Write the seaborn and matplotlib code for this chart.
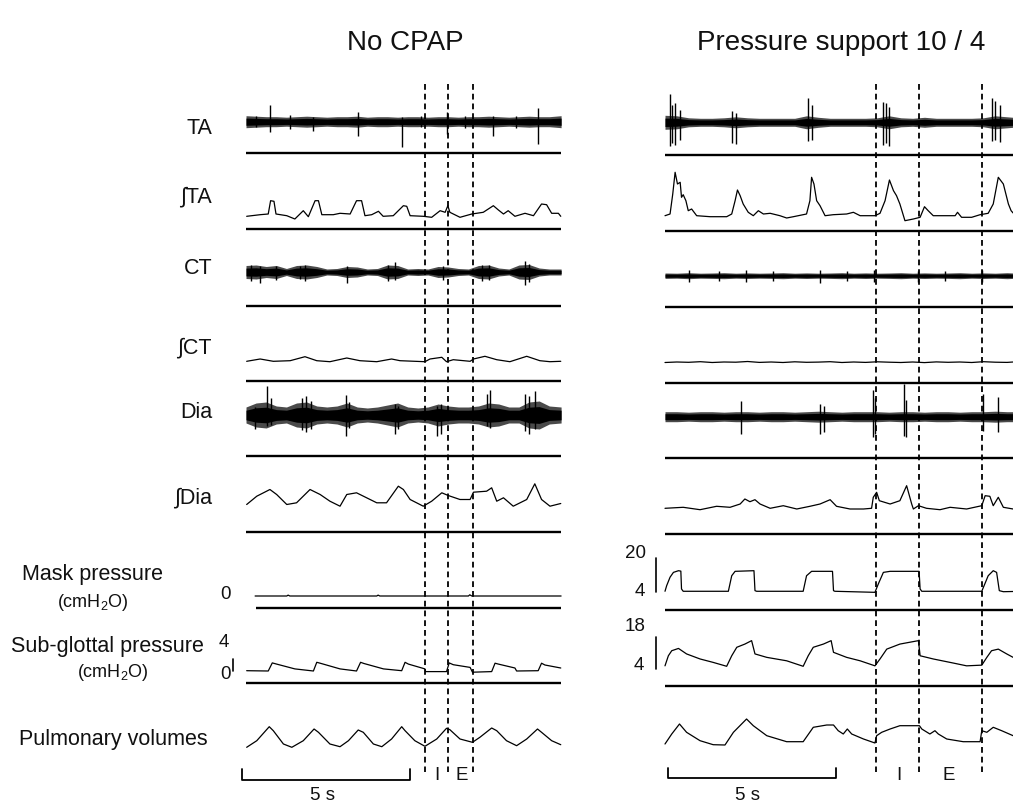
import matplotlib
matplotlib.use("Agg")
import matplotlib.pyplot as plt
import numpy as np
import seaborn as sns

# ======================= DATA =======================
# time in seconds from the start of each recording window
# EMG / integrated / volume amplitudes are arbitrary units above each row's reference line
# pressures in cmH2O

# ---------- No CPAP (left) ----------
L_ENV_T = [0.0, 0.3, 0.6, 0.9, 1.2, 1.5, 1.8, 2.1, 2.4, 2.7, 3.0, 3.3, 3.6, 3.9, 4.2, 4.5,
           4.8, 5.1, 5.4, 5.7, 6.0, 6.3, 6.6, 6.9, 7.2, 7.5, 7.8, 8.1, 8.4, 8.7, 9.0, 9.35]
L_TA_HALF = [6, 5.5, 5, 5, 4.5, 5, 5.5, 5, 4.5, 5, 5, 5.5, 4.5, 5, 5, 4.5,
             5, 5, 4.5, 5, 5, 4.5, 5, 5, 5.5, 5, 4.5, 5, 5.5, 5, 5, 6]
L_TA_SPIKES = [(0.30, 37, 26), (0.71, 48, 21), (1.30, 38, 24), (2.00, 36, 22), (3.31, 41, 17),
               (4.64, 36, 6), (5.20, 37, 26), (5.97, 41, 19), (6.50, 37, 25), (7.34, 37, 17),
               (8.00, 37, 25), (8.67, 45, 9)]
L_CT_HALF = [6.5, 7, 5.5, 6.5, 3.5, 6.5, 7, 5.5, 3, 3.5, 5.5, 5, 3, 3.5, 7, 6.5,
             3, 3.5, 3, 5.5, 5, 3.5, 3, 6.5, 7, 4, 3, 7, 7.5, 4, 3, 3]
L_CT_SPIKES = [(0.15, 41, 25), (0.42, 40, 22.5), (0.90, 40, 26), (1.60, 40, 27), (1.75, 41, 25),
               (2.99, 40, 22.5), (4.20, 41, 25), (4.42, 43.8, 26), (5.85, 40, 26), (7.00, 41, 25),
               (7.20, 41, 26), (8.28, 44.8, 20.5), (8.40, 42, 24)]
L_DIA_HALF = [8, 12, 13, 9, 8, 12, 13, 9, 8, 9, 12, 8, 7, 8, 10, 12,
              8, 7, 8, 11, 9, 8, 8, 9, 12, 11, 8, 8, 13, 14, 9, 8]
L_DIA_SPIKES = [(0.27, 49, 27), (0.63, 70, 30), (0.75, 58, 31), (1.65, 58, 26), (1.78, 60, 24),
                (1.92, 55, 27), (2.97, 61, 20), (3.05, 54, 28), (4.42, 52, 22), (4.50, 50, 27),
                (5.66, 50, 20), (5.80, 52, 22), (7.14, 62, 30), (7.24, 66, 28), (8.28, 62, 25),
                (8.40, 60, 22), (8.57, 65, 27)]

L_ITA_T = [0.02, 0.42, 0.66, 0.73, 0.83, 0.89, 1.21, 1.45, 1.70, 1.85, 2.05, 2.15, 2.25, 2.59,
           2.79, 3.09, 3.28, 3.43, 3.53, 3.73, 3.93, 4.07, 4.37, 4.67, 4.77, 4.87, 5.26, 5.51,
           5.76, 5.91, 5.99, 6.05, 6.35, 6.70, 7.04, 7.34, 7.49, 7.64, 7.78, 7.98, 8.28, 8.53,
           8.77, 8.92, 9.07, 9.27, 9.34]
L_ITA = [12.7, 14.3, 15, 28.3, 27.7, 15, 13.3, 10, 18.3, 12.3, 28.3, 28.3, 14.3, 14.3,
         15.7, 15, 28.3, 28.3, 13.3, 14.3, 17.7, 12.7, 13.3, 23.3, 22.7, 13.3, 12.7, 11.7,
         18.3, 16.7, 23.3, 16.7, 11.7, 15, 16.7, 23.3, 19, 15, 18.3, 12.7, 15.7, 13.3,
         25, 24.3, 15.7, 15.7, 12.7]

L_ICT_T = [0.02, 0.42, 0.81, 1.31, 1.75, 2.10, 2.49, 2.99, 3.38, 3.88, 4.32, 4.57, 5.31,
           5.46, 5.81, 5.95, 6.15, 6.65, 6.75, 7.09, 7.44, 7.83, 8.33, 8.72, 9.02, 9.34]
L_ICT = [19.7, 22, 19.7, 20.3, 24.3, 20.3, 19.3, 23, 20.3, 19.3, 22, 20.3, 19.3,
         22, 23.7, 19.3, 21.3, 19.7, 22, 24.7, 21.3, 19.3, 24.7, 20.3, 19.3, 19.7]

L_IDIA_T = [0.02, 0.32, 0.71, 0.91, 1.21, 1.50, 1.90, 2.20, 2.49, 2.79, 2.99, 3.28, 3.58,
            3.88, 4.17, 4.52, 4.67, 4.87, 5.26, 5.51, 5.81, 6.00, 6.35, 6.65, 6.75, 7.14,
            7.29, 7.44, 7.64, 7.93, 8.33, 8.57, 8.77, 9.02, 9.34]
L_IDIA = [27, 35.3, 42, 37, 27, 28.7, 42, 37, 30.3, 25.3, 37, 38.7, 33.7,
          28.7, 28.7, 45.3, 42, 32, 25.3, 30.3, 38.7, 36, 32, 32, 39.3, 40.3,
          43.7, 30.3, 33.7, 25.3, 32, 47.7, 32, 25.3, 28]

L_MASK_T = [0.27, 1.21, 1.25, 1.30, 3.88, 3.92, 3.97, 6.60, 6.64, 6.70, 9.35]
L_MASK = [0, 0, 0.3, 0, 0, 0.3, 0, 0, 0.4, 0, 0]

L_SUB_T = [0.02, 0.66, 0.78, 0.91, 1.45, 2.00, 2.10, 2.20, 2.79, 3.28, 3.40, 3.50, 4.08,
           4.62, 4.72, 4.82, 5.31, 5.33, 5.95, 6.03, 6.15, 6.65, 6.72, 7.29, 7.39, 7.49,
           7.98, 8.03, 8.67, 8.77, 8.87, 9.34]
L_SUB = [0.1, 0.0, 2.7, 2.3, 0.7, 0.0, 2.9, 2.6, 0.7, 0.0, 2.9, 2.5, 0.7,
         0.1, 2.9, 2.3, 0.7, -0.2, -0.2, 2.7, 2.1, 1.2, -0.4, -0.2, 2.6, 2.3,
         1.0, 0.0, 0.1, 2.6, 2.0, 1.0]

L_VOL_T = [0.02, 0.32, 0.69, 0.81, 1.11, 1.36, 1.70, 2.02, 2.15, 2.49, 2.79, 3.04, 3.33,
           3.48, 3.78, 4.03, 4.32, 4.62, 4.72, 5.01, 5.31, 5.66, 5.95, 6.05, 6.35, 6.72,
           6.94, 7.29, 7.44, 7.73, 8.03, 8.33, 8.65, 8.77, 9.07, 9.34]
L_VOL = [11.7, 18.3, 32.3, 28.3, 15, 11.7, 18.3, 30, 26.7, 15, 12.3, 18.3, 29,
         26.7, 15, 12.3, 20, 32.3, 28.3, 18.3, 12.7, 20, 30.7, 29.3, 20, 16.7,
         21.7, 31, 28.3, 18.3, 13.3, 20, 30, 26.7, 18.3, 14.3]

L_DASH_T = [5.31, 5.99, 6.73]          # cycle markers (I / E)

# ---------- Pressure support 10 / 4 (right) ----------
R_ENV_T = [0.0, 0.35, 0.7, 1.05, 1.4, 1.75, 2.1, 2.45, 2.8, 3.15, 3.5, 3.85, 4.2, 4.55, 4.9,
           5.25, 5.6, 5.95, 6.3, 6.65, 7.0, 7.35, 7.7, 8.05, 8.4, 8.75, 9.1, 9.45, 9.8, 10.15, 10.33]
R_TA_HALF = [7, 6.5, 4.5, 4, 4, 4.5, 5.5, 4.5, 4, 4, 4, 4, 6.5, 5, 4, 4,
             4, 4, 4.5, 6.5, 4.5, 4, 5, 4, 4, 4, 4, 4.5, 6.5, 5.5, 5]
R_TA_SPIKES = [(0.15, 61, 9), (0.22, 50, 12), (0.30, 52, 10), (0.45, 45, 15), (1.98, 44, 12),
               (2.10, 42, 11), (4.25, 57, 14), (4.35, 50, 15), (6.48, 53, 10), (6.55, 52, 12),
               (6.65, 48, 9), (9.69, 57, 14), (9.80, 54, 15), (9.95, 50, 13)]
R_CT_HALF = [2.7, 2.5, 3, 2.5, 2.7, 3, 2.5, 2.8, 2.5, 2.7, 3, 2.5, 2.8, 2.5, 2.7, 3,
             2.5, 2.8, 2.5, 2.7, 3, 2.5, 2.8, 2.5, 2.7, 3, 2.5, 2.8, 2.5, 3, 2.7]
R_CT_SPIKES = [(0.7, 37, 25), (1.6, 36, 26), (2.4, 37, 25), (3.2, 36, 26), (4.6, 37, 24),
               (5.4, 36, 26), (6.2, 37, 25), (7.5, 36, 25), (8.3, 36, 26), (9.4, 37, 25)]
R_DIA_HALF = [5, 5, 4.5, 5, 5, 4.5, 5, 5, 4.5, 5, 5, 4.5, 5, 5.5, 5, 4.5,
              5, 5, 5, 4.5, 5, 5, 4.5, 5, 5, 4.5, 5, 5, 5.5, 5, 5]
R_DIA_SPIKES = [(2.27, 57.3, 24), (4.60, 54, 24), (4.72, 52, 26), (6.18, 68.3, 20.7),
                (6.22, 60, 24), (7.09, 74, 22.3), (7.15, 58, 21), (9.45, 64, 27.3), (9.89, 60.7, 26)]

R_ITA_T = [0.00, 0.15, 0.23, 0.30, 0.37, 0.45, 0.49, 0.54, 0.62, 0.69, 0.79, 0.94, 1.34, 1.83,
           1.98, 2.08, 2.15, 2.23, 2.32, 2.47, 2.62, 2.77, 2.92, 3.12, 3.41, 3.61, 3.81, 4.20,
           4.30, 4.35, 4.42, 4.50, 4.60, 4.75, 4.99, 5.39, 5.59, 5.79, 6.23, 6.38, 6.53, 6.66,
           6.78, 6.87, 6.97, 7.12, 7.37, 7.57, 7.70, 7.81, 7.96, 8.36, 8.61, 8.68, 8.80, 9.10,
           9.35, 9.59, 9.74, 9.89, 10.04, 10.19, 10.27, 10.33]
R_ITA = [15.3, 17, 37, 58.7, 47, 48.7, 33.7, 36.3, 30.3, 20.3, 22, 15.3, 14.3, 14.3,
         17, 30.3, 41, 35.3, 27, 18.7, 15.3, 20.3, 17, 17.7, 15.3, 13, 14.3, 17,
         30.3, 53.7, 47, 30.3, 25.3, 15.3, 16.3, 17, 18.7, 15.3, 15.3, 17.7, 30.3, 51,
         40.3, 35.3, 27, 10.3, 12, 13.7, 24.3, 20.3, 15.3, 15.3, 15.3, 18.7, 13.7, 13.7,
         16.3, 17.7, 27, 53.7, 47, 27, 20.3, 18]

R_ICT = [20.5, 21, 20.7, 21.3, 20.5, 21, 20.8, 21.5, 20.6, 21, 20.5, 21.2, 20.7, 20.9, 21.3,
         20.5, 21, 20.6, 21.2, 20.8, 20.5, 21, 20.4, 21.1, 20.7, 21, 20.5, 21.3, 20.8, 20.6, 21]

R_IDIA_T = [0.00, 0.54, 1.04, 1.53, 1.93, 2.23, 2.37, 2.52, 2.67, 2.82, 3.12, 3.51, 3.91,
            4.30, 4.60, 4.90, 5.09, 5.49, 5.89, 6.13, 6.18, 6.28, 6.36, 6.68, 6.97, 7.17,
            7.32, 7.37, 7.52, 7.76, 8.16, 8.46, 8.95, 9.40, 9.50, 9.64, 9.74, 9.89, 10.04, 10.33]
R_IDIA = [25.7, 26.7, 24.3, 27.7, 26.7, 30, 35, 32.3, 34.3, 30, 25.7, 28.3, 25,
          27.7, 30, 34.3, 27.7, 25, 25, 25.7, 36.7, 41.7, 33.3, 30, 33.3, 48.3,
          30, 25, 28.3, 25.7, 24.3, 26.7, 25, 28.3, 38.3, 37.7, 28.3, 36.7, 26.7, 25]

R_MASK_T = [0.00, 0.05, 0.15, 0.25, 0.40, 0.47, 0.49, 0.54, 1.88, 1.98, 2.08, 2.64, 2.67, 2.72,
            4.10, 4.20, 4.35, 4.97, 5.00, 5.04, 6.23, 6.33, 6.48, 6.68, 7.54, 7.57, 7.62, 9.40,
            9.59, 9.74, 9.84, 9.92, 10.04, 10.33]
R_MASK = [4.2, 6.9, 10.9, 13.2, 14.0, 13.8, 5.3, 4.2, 4.2, 11.6, 13.7, 14.0, 4.5, 4.2,
          4.2, 11.6, 13.7, 13.7, 4.5, 4.2, 3.7, 7.7, 13.2, 13.7, 13.7, 5.3, 4.2, 4.2,
          11.6, 14.0, 13.2, 4.5, 4.0, 4.1]

R_SUB_T = [0.00, 0.10, 0.20, 0.40, 0.64, 1.04, 1.43, 1.83, 1.98, 2.13, 2.37, 2.57, 2.67, 3.02,
           3.61, 4.10, 4.25, 4.40, 4.70, 4.93, 5.00, 5.39, 5.79, 6.23, 6.38, 6.58, 6.97, 7.52,
           7.57, 7.96, 8.56, 8.95, 9.40, 9.55, 9.69, 9.89, 10.14, 10.33]
R_SUB = [5.4, 9.8, 12.0, 13.0, 10.6, 8.4, 6.9, 5.2, 9.8, 13.5, 14.9, 16.4, 10.6, 9.1,
         7.6, 5.2, 9.8, 13.5, 14.9, 16.4, 11.3, 9.1, 7.6, 5.4, 8.4, 12.7, 14.9, 16.4,
         9.8, 8.4, 6.6, 5.4, 5.7, 9.1, 12.0, 12.7, 10.6, 9.1]

R_VOL_T = [0.00, 0.20, 0.43, 0.64, 1.04, 1.43, 1.78, 2.03, 2.42, 2.62, 3.02, 3.61, 4.10, 4.40,
           4.80, 5.00, 5.14, 5.29, 5.41, 5.54, 5.89, 6.23, 6.28, 6.43, 6.68, 6.97, 7.55, 7.62,
           7.86, 8.01, 8.11, 8.36, 8.85, 9.35, 9.40, 9.55, 9.74, 9.99, 10.33]
R_VOL = [17, 27, 37, 28.7, 20.3, 16.3, 16, 28.7, 42, 35.3, 25.3, 19.3, 19.3, 33.7,
         36, 36, 30.3, 27, 32, 27, 22, 18, 25.3, 28.7, 32, 35.3, 35.3, 32,
         27, 30.3, 27, 22, 19.3, 19.3, 30.3, 28.7, 33.7, 30.3, 25.3]

R_DASH_T = [6.26, 7.55, 9.41]

ROW_LABELS = ["TA", "\u222bTA", "CT", "\u222bCT", "Dia", "\u222bDia"]
TITLES = ["No CPAP", "Pressure support 10 / 4"]
SCALE_SECONDS = 5

# ======================= LAYOUT =======================
W, H = 1013, 803
PX_PER_S = 33.7
sns.set_theme(style="white")
plt.rcParams["font.family"] = ["Liberation Sans", "DejaVu Sans"]
plt.rcParams["mathtext.default"] = "regular"

fig = plt.figure(figsize=(W / 100, H / 100), dpi=100)
fig.patch.set_facecolor("white")

SPLIT = 607.8
axL = fig.add_axes([0, 0, SPLIT / W, 1])
axR = fig.add_axes([SPLIT / W, 0, 1 - SPLIT / W, 1])
axL.set_xlim(-246 / PX_PER_S, (SPLIT - 246) / PX_PER_S)
axR.set_xlim((SPLIT - 665) / PX_PER_S, (W - 665) / PX_PER_S)
for ax in (axL, axR):
    ax.set_ylim(H, 0)

# row reference lines (vertical layout, px from top)
L_BASE = dict(TA=154, iTA=230, CT=306.5, iCT=382, Dia=457, iDia=532.5, Mask=608.5, Sub=684, Vol=760)
R_BASE = dict(TA=156, iTA=232, CT=308, iCT=384, Dia=459, iDia=535, Mask=611, Sub=687, Vol=762)

K = "black"
TR_LW = 0.9


def emg(ax, base, center, t, half, spikes):
    t = np.asarray(t)
    half = np.asarray(half)
    ax.fill_between(t, base - center - half, base - center + half, color="#4a4a4a", lw=0)
    ax.fill_between(t, base - center - 0.6 * half, base - center + 0.6 * half, color=K, lw=0)
    st = [s[0] for s in spikes]
    top = np.array([s[1] for s in spikes])
    bot = np.array([s[2] for s in spikes])
    ax.vlines(st, base - top, base - bot, color=K, lw=1.0)


def trace(ax, t, y):
    sns.lineplot(x=list(t), y=list(y), ax=ax, color=K, linewidth=TR_LW,
                 estimator=None, sort=False, legend=False)


def baseline(ax, y, t0, t1):
    ax.hlines(y, t0, t1, color=K, lw=1.7)


# ---------- left panel ----------
tL_end = L_ENV_T[-1]
emg(axL, L_BASE["TA"], 31.3, L_ENV_T, L_TA_HALF, L_TA_SPIKES)
emg(axL, L_BASE["CT"], 33.5, L_ENV_T, L_CT_HALF, L_CT_SPIKES)
emg(axL, L_BASE["Dia"], 41, L_ENV_T, L_DIA_HALF, L_DIA_SPIKES)
trace(axL, L_ITA_T, L_BASE["iTA"] - np.array(L_ITA))
trace(axL, L_ICT_T, L_BASE["iCT"] - np.array(L_ICT))
trace(axL, L_IDIA_T, L_BASE["iDia"] - np.array(L_IDIA))
trace(axL, L_MASK_T, 597 - 3.0 * np.array(L_MASK))          # 0 cmH2O level, 3 px/cmH2O
trace(axL, L_SUB_T, 672 - 3.0 * np.array(L_SUB))            # 0 cmH2O level, 3 px/cmH2O
trace(axL, L_VOL_T, L_BASE["Vol"] - np.array(L_VOL))
for key in ["TA", "iTA", "CT", "iCT", "Dia", "iDia", "Sub"]:
    baseline(axL, L_BASE[key], 0, tL_end)
baseline(axL, L_BASE["Mask"], 0.30, tL_end)
# sub-glottal pressure calibration bar 0-4 cmH2O
axL.plot([-0.39, -0.39], [672 - 3.0 * 0, 672 - 3.0 * 4], color=K, lw=1.2)

# ---------- right panel ----------
emg(axR, R_BASE["TA"], 32.7, R_ENV_T, R_TA_HALF, R_TA_SPIKES)
emg(axR, R_BASE["CT"], 31.3, R_ENV_T, R_CT_HALF, R_CT_SPIKES)
emg(axR, R_BASE["Dia"], 41.3, R_ENV_T, R_DIA_HALF, R_DIA_SPIKES)
trace(axR, R_ITA_T, R_BASE["iTA"] - np.array(R_ITA))
trace(axR, R_ENV_T, R_BASE["iCT"] - np.array(R_ICT))
trace(axR, R_IDIA_T, R_BASE["iDia"] - np.array(R_IDIA))
MZ, MS = 601.1, 2.1      # mask: 0 cmH2O level, px/cmH2O
SZ, SS = 679.2, 2.29     # sub-glottal
trace(axR, R_MASK_T, MZ - MS * np.array(R_MASK))
trace(axR, R_SUB_T, SZ - SS * np.array(R_SUB))
trace(axR, R_VOL_T, R_BASE["Vol"] - np.array(R_VOL))
for key in ["TA", "iTA", "CT", "iCT", "Dia", "iDia", "Mask", "Sub"]:
    baseline(axR, R_BASE[key], 0, 11)
axR.plot([-0.28, -0.28], [MZ - MS * 4, MZ - MS * 20], color=K, lw=1.2)
axR.plot([-0.28, -0.28], [SZ - SS * 4, SZ - SS * 18], color=K, lw=1.2)

# ---------- dashed cycle markers, time bars ----------
for ax, dts, bar0, ybar in ((axL, L_DASH_T, -0.12, 780.7), (axR, R_DASH_T, 0.08, 779)):
    ax.vlines(dts, 85, 773, color=K, lw=1.3, linestyles=(0, (3.2, 2.2)))
    b1 = bar0 + SCALE_SECONDS
    ax.plot([bar0, bar0, b1, b1], [ybar - 10.5, ybar, ybar, ybar - 10.5], color=K, lw=1.3)
    ax.axis("off")


# ---------- text ----------
def ftext(x, y, s, size, ha="center", **kw):
    fig.text(x / W, 1 - y / H, s, fontsize=size, ha=ha, va="center", color="#111111", **kw)


ftext(405, 43, TITLES[0], 20)
ftext(841, 43, TITLES[1], 20)
LABEL_Y = [129, 197, 268, 348, 413, 498]
for lab, y in zip(ROW_LABELS, LABEL_Y):
    ftext(212, y, lab, 15.5, ha="right")
ftext(92, 575, "Mask pressure", 15.5)
ftext(93, 603, "(cmH$_2$O)", 13)
ftext(107, 647, "Sub-glottal pressure", 15.5)
ftext(113, 673, "(cmH$_2$O)", 13)
ftext(113, 740, "Pulmonary volumes", 15.5)
ftext(225, 595, "0", 13.5)
ftext(224, 643, "4", 13.5)
ftext(225, 675, "0", 13.5)
ftext(635, 554, "20", 13.5)
ftext(640, 591.5, "4", 13.5)
ftext(635, 627, "18", 13.5)
ftext(639, 666, "4", 13.5)
ftext(437, 776, "I", 13.5)
ftext(462, 776, "E", 13.5)
ftext(899, 776, "I", 13.5)
ftext(949, 776, "E", 13.5)
ftext(323, 796, "5 s", 13.5)
ftext(747, 796, "5 s", 13.5)

fig.savefig("out.png", dpi=100, facecolor="white")
